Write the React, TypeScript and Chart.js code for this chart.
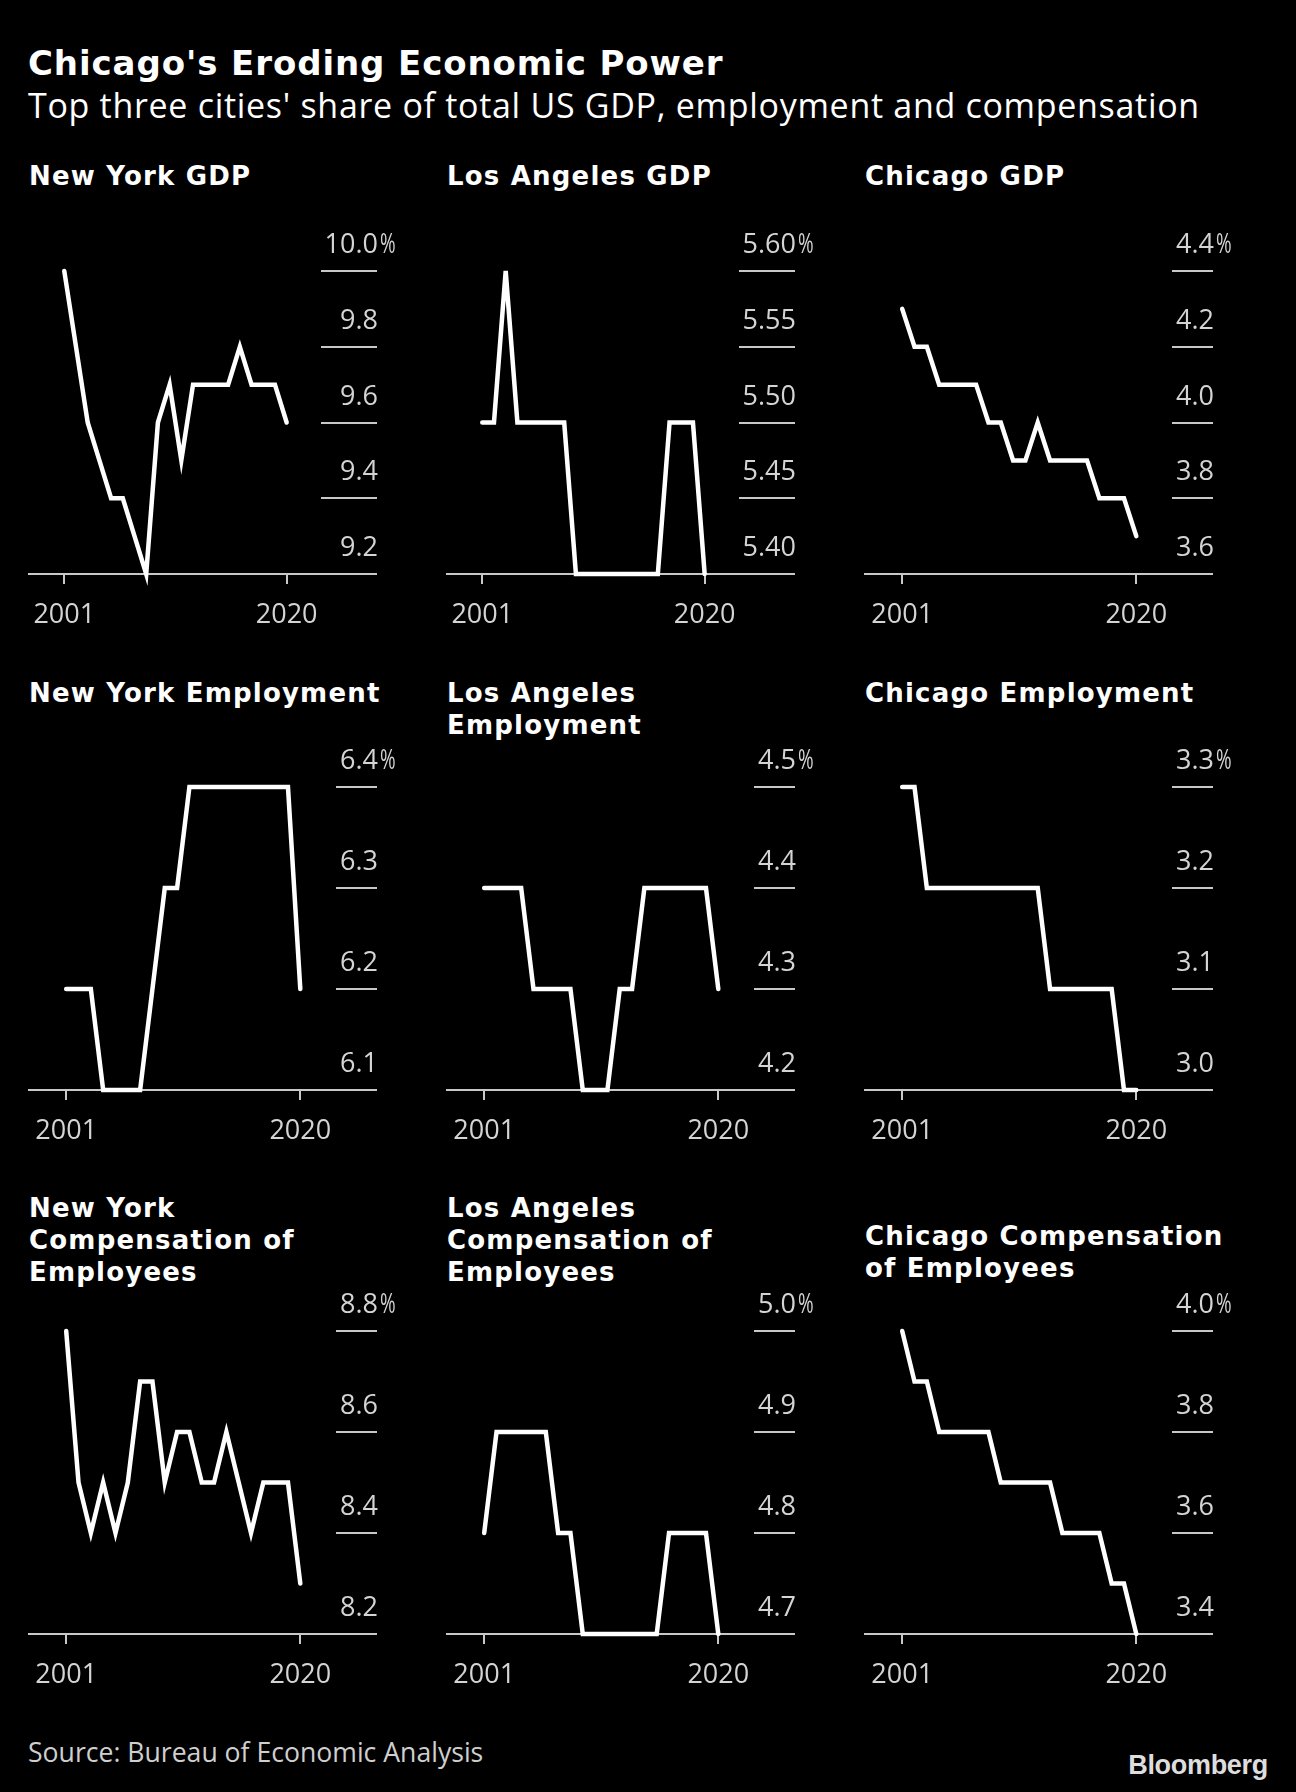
import React, { useEffect, useRef } from "react";
import { Chart, registerables } from "chart.js";

Chart.register(...registerables);

// ---------- data ----------
const years = [2001, 2002, 2003, 2004, 2005, 2006, 2007, 2008, 2009, 2010, 2011, 2012, 2013, 2014, 2015, 2016, 2017, 2018, 2019, 2020];
const xTickYears = [2001, 2020];

const nyGdp = [10.0, 9.8, 9.6, 9.5, 9.4, 9.4, 9.3, 9.2, 9.6, 9.7, 9.5, 9.7, 9.7, 9.7, 9.7, 9.8, 9.7, 9.7, 9.7, 9.6];
const laGdp = [5.5, 5.5, 5.6, 5.5, 5.5, 5.5, 5.5, 5.5, 5.4, 5.4, 5.4, 5.4, 5.4, 5.4, 5.4, 5.4, 5.5, 5.5, 5.5, 5.4];
const chiGdp = [4.3, 4.2, 4.2, 4.1, 4.1, 4.1, 4.1, 4.0, 4.0, 3.9, 3.9, 4.0, 3.9, 3.9, 3.9, 3.9, 3.8, 3.8, 3.8, 3.7];
const nyEmp = [6.2, 6.2, 6.2, 6.1, 6.1, 6.1, 6.1, 6.2, 6.3, 6.3, 6.4, 6.4, 6.4, 6.4, 6.4, 6.4, 6.4, 6.4, 6.4, 6.2];
const laEmp = [4.4, 4.4, 4.4, 4.4, 4.3, 4.3, 4.3, 4.3, 4.2, 4.2, 4.2, 4.3, 4.3, 4.4, 4.4, 4.4, 4.4, 4.4, 4.4, 4.3];
const chiEmp = [3.3, 3.3, 3.2, 3.2, 3.2, 3.2, 3.2, 3.2, 3.2, 3.2, 3.2, 3.2, 3.1, 3.1, 3.1, 3.1, 3.1, 3.1, 3.0, 3.0];
const nyComp = [8.8, 8.5, 8.4, 8.5, 8.4, 8.5, 8.7, 8.7, 8.5, 8.6, 8.6, 8.5, 8.5, 8.6, 8.5, 8.4, 8.5, 8.5, 8.5, 8.3];
const laComp = [4.8, 4.9, 4.9, 4.9, 4.9, 4.9, 4.8, 4.8, 4.7, 4.7, 4.7, 4.7, 4.7, 4.7, 4.7, 4.8, 4.8, 4.8, 4.8, 4.7];
const chiComp = [4.0, 3.9, 3.9, 3.8, 3.8, 3.8, 3.8, 3.8, 3.7, 3.7, 3.7, 3.7, 3.7, 3.6, 3.6, 3.6, 3.6, 3.5, 3.5, 3.4];

const nyGdpTicks = ["9.2", "9.4", "9.6", "9.8", "10.0"];
const laGdpTicks = ["5.40", "5.45", "5.50", "5.55", "5.60"];
const chiGdpTicks = ["3.6", "3.8", "4.0", "4.2", "4.4"];
const nyEmpTicks = ["6.1", "6.2", "6.3", "6.4"];
const laEmpTicks = ["4.2", "4.3", "4.4", "4.5"];
const chiEmpTicks = ["3.0", "3.1", "3.2", "3.3"];
const nyCompTicks = ["8.2", "8.4", "8.6", "8.8"];
const laCompTicks = ["4.7", "4.8", "4.9", "5.0"];
const chiCompTicks = ["3.4", "3.6", "3.8", "4.0"];

const nyGdpTitle = ["New York GDP"];
const laGdpTitle = ["Los Angeles GDP"];
const chiGdpTitle = ["Chicago GDP"];
const nyEmpTitle = ["New York Employment"];
const laEmpTitle = ["Los Angeles", "Employment"];
const chiEmpTitle = ["Chicago Employment"];
const nyCompTitle = ["New York", "Compensation of", "Employees"];
const laCompTitle = ["Los Angeles", "Compensation of", "Employees"];
const chiCompTitle = ["Chicago Compensation", "of Employees"];

const mainTitle = "Chicago's Eroding Economic Power";
const subTitle = "Top three cities' share of total US GDP, employment and compensation";
const sourceText = "Source: Bureau of Economic Analysis";
const brandText = "Bloomberg";

// ---------- layout / style ----------
const COL_X = [28, 446, 864];
const ROW_CANVAS_TOP = [221, 737, 1281];
const PLOT_W = 349;
const PAD_RIGHT = 22;
const PAD_TOP = 50;
const PLOT_H = 303;
const XAXIS_H = 60;
const X_MIN = 1997.9;
const X_MAX = 2022.9;

const LABEL_FAMILY = "'Open Sans', 'Noto Sans', sans-serif";
const LABEL_SIZE = 27;
const LABEL_FONT = `${LABEL_SIZE}px ${LABEL_FAMILY}`;
const LABEL_COLOR = "#d4d4d4";
const RULE_COLOR = "#c8c8c8";
const TITLE_FAMILY = "'DejaVu Sans', Verdana, sans-serif";

type PanelDef = {
  title: string[];
  titleTop: number;
  values: number[];
  ticks: string[];
  col: number;
  row: number;
};

const panels: PanelDef[] = [
  { title: nyGdpTitle, titleTop: 160, values: nyGdp, ticks: nyGdpTicks, col: 0, row: 0 },
  { title: laGdpTitle, titleTop: 160, values: laGdp, ticks: laGdpTicks, col: 1, row: 0 },
  { title: chiGdpTitle, titleTop: 160, values: chiGdp, ticks: chiGdpTicks, col: 2, row: 0 },
  { title: nyEmpTitle, titleTop: 677, values: nyEmp, ticks: nyEmpTicks, col: 0, row: 1 },
  { title: laEmpTitle, titleTop: 677, values: laEmp, ticks: laEmpTicks, col: 1, row: 1 },
  { title: chiEmpTitle, titleTop: 677, values: chiEmp, ticks: chiEmpTicks, col: 2, row: 1 },
  { title: nyCompTitle, titleTop: 1192, values: nyComp, ticks: nyCompTicks, col: 0, row: 2 },
  { title: laCompTitle, titleTop: 1192, values: laComp, ticks: laCompTicks, col: 1, row: 2 },
  { title: chiCompTitle, titleTop: 1220, values: chiComp, ticks: chiCompTicks, col: 2, row: 2 },
];

function makeYLabelPlugin(labels: string[]) {
  return {
    id: "yLabelsAbove",
    afterDraw(chart: any) {
      const s = chart.scales.y;
      const ctx = chart.ctx as CanvasRenderingContext2D;
      ctx.save();
      ctx.font = LABEL_FONT;
      ctx.fillStyle = LABEL_COLOR;
      ctx.textBaseline = "alphabetic";
      labels.forEach((lab, i) => {
        const y = s.getPixelForValue(Number(lab)) - 18;
        ctx.textAlign = "right";
        ctx.fillText(lab, s.right + 1, y);
        if (i === labels.length - 1) {
          ctx.save();
          ctx.translate(s.right + 3, y);
          ctx.scale(0.7, 1);
          ctx.textAlign = "left";
          ctx.fillText("%", 0, 0);
          ctx.restore();
        }
      });
      ctx.restore();
    },
  };
}

function Panel({ p }: { p: PanelDef }) {
  const ref = useRef<HTMLCanvasElement | null>(null);
  useEffect(() => {
    const canvas = ref.current;
    if (!canvas) return;
    const tickVals = p.ticks.map(Number);
    const mctx = document.createElement("canvas").getContext("2d") as CanvasRenderingContext2D;
    mctx.font = LABEL_FONT;
    const tl = Math.max(...p.ticks.map((t) => mctx.measureText(t).width)) + 3;

    const chart = new Chart(canvas, {
      type: "line",
      data: {
        datasets: [
          {
            data: years.map((x, i) => ({ x, y: p.values[i] })),
            borderColor: "#ffffff",
            borderWidth: 4.5,
            pointRadius: 0,
            pointHoverRadius: 0,
            tension: 0,
            fill: false,
            clip: false as any,
            borderCapStyle: "round",
            borderJoinStyle: "miter",
          } as any,
        ],
      },
      options: {
        animation: false,
        responsive: false,
        events: [],
        layout: { padding: { top: PAD_TOP, right: PAD_RIGHT, bottom: 0, left: 0 } },
        plugins: { legend: { display: false }, tooltip: { enabled: false } },
        scales: {
          x: {
            type: "linear",
            min: X_MIN,
            max: X_MAX,
            afterBuildTicks: (s: any) => {
              s.ticks = xTickYears.map((v) => ({ value: v }));
            },
            afterFit: (s: any) => {
              s.height = XAXIS_H;
              s.paddingLeft = 0;
              s.paddingRight = 0;
            },
            ticks: {
              callback: (v: any) => String(v),
              font: { family: LABEL_FAMILY, size: LABEL_SIZE },
              color: LABEL_COLOR,
              padding: 15,
              maxRotation: 0,
              autoSkip: false,
            },
            grid: { drawOnChartArea: false, drawTicks: true, tickLength: 10, color: RULE_COLOR, lineWidth: 2 },
            border: { display: true, color: RULE_COLOR, width: 2 },
          },
          y: {
            type: "linear",
            position: "right",
            min: tickVals[0],
            max: tickVals[tickVals.length - 1],
            afterBuildTicks: (s: any) => {
              s.ticks = tickVals.map((v) => ({ value: v }));
            },
            afterFit: (s: any) => {
              s.width = tl;
              s.paddingTop = 0;
              s.paddingBottom = 0;
            },
            ticks: { display: false },
            grid: { drawOnChartArea: false, drawTicks: true, tickLength: tl, color: RULE_COLOR, lineWidth: 2 },
            border: { display: false },
          },
        },
      } as any,
      plugins: [makeYLabelPlugin(p.ticks)],
    });
    return () => chart.destroy();
  }, [p]);

  const left = COL_X[p.col];
  const top = ROW_CANVAS_TOP[p.row];
  return (
    <>
      <div
        style={{
          position: "absolute",
          left: left + 1,
          top: p.titleTop,
          font: `bold 26px ${TITLE_FAMILY}`,
          lineHeight: "32px",
          letterSpacing: "1.2px",
          color: "#ffffff",
          whiteSpace: "nowrap",
        }}
      >
        {p.title.map((t, i) => (
          <div key={i}>{t}</div>
        ))}
      </div>
      <canvas
        ref={ref}
        width={PLOT_W + PAD_RIGHT}
        height={PAD_TOP + PLOT_H + XAXIS_H}
        style={{ position: "absolute", left, top, width: PLOT_W + PAD_RIGHT, height: PAD_TOP + PLOT_H + XAXIS_H }}
      />
    </>
  );
}

export default function App() {
  useEffect(() => {
    document.body.style.margin = "0";
    document.body.style.background = "#000";
  }, []);
  return (
    <div style={{ position: "absolute", left: 0, top: 0, width: 1296, height: 1792, background: "#000", overflow: "hidden" }}>
      <div
        style={{
          position: "absolute",
          left: 28,
          top: 46,
          font: `bold 34px ${TITLE_FAMILY}`,
          lineHeight: "34px",
          letterSpacing: "0.9px",
          color: "#ffffff",
          whiteSpace: "nowrap",
        }}
      >
        {mainTitle}
      </div>
      <div
        style={{
          position: "absolute",
          left: 28,
          top: 88,
          font: `34px ${LABEL_FAMILY}`,
          lineHeight: "34px",
          letterSpacing: "0.7px",
          color: "#ffffff",
          whiteSpace: "nowrap",
        }}
      >
        {subTitle}
      </div>
      {panels.map((p, i) => (
        <Panel key={i} p={p} />
      ))}
      <div
        style={{
          position: "absolute",
          left: 28,
          top: 1739,
          font: `26.6px ${LABEL_FAMILY}`,
          lineHeight: "27px",
          color: "#cfcfcf",
          whiteSpace: "nowrap",
        }}
      >
        {sourceText}
      </div>
      <div
        style={{
          position: "absolute",
          right: 28,
          top: 1752,
          font: `bold 27px 'Liberation Sans', Arial, sans-serif`,
          lineHeight: "27px",
          letterSpacing: "-0.3px",
          color: "#dddddd",
          whiteSpace: "nowrap",
        }}
      >
        {brandText}
      </div>
    </div>
  );
}
